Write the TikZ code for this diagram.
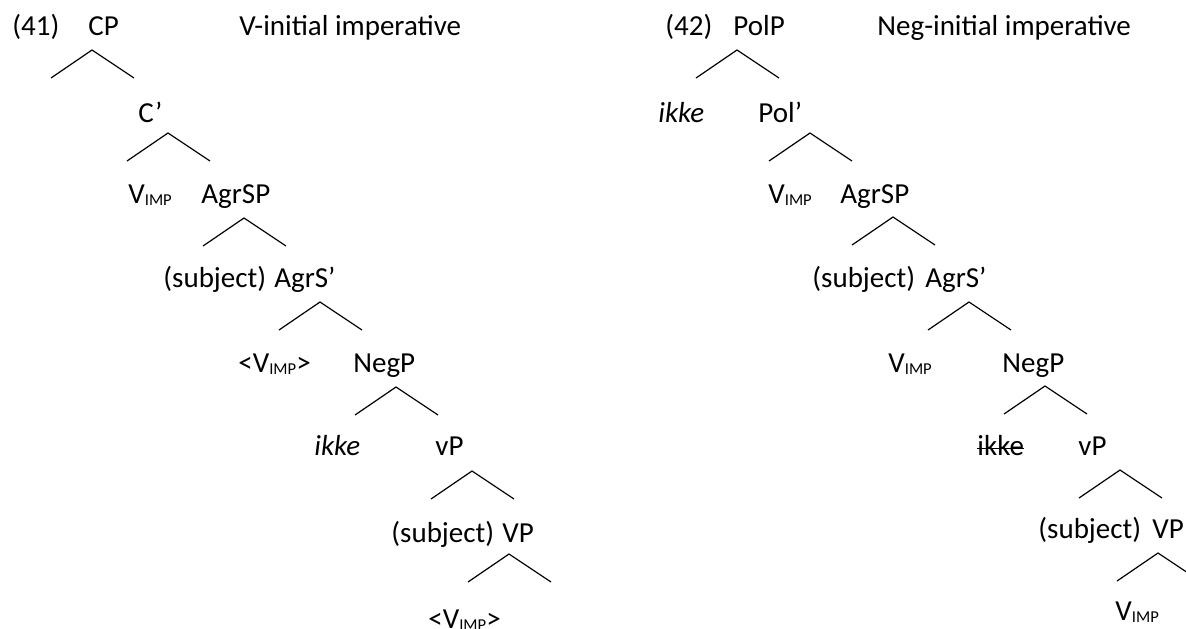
\documentclass[tikz,border=0pt]{standalone}
\usepackage{fontspec}
\setmainfont{Carlito}
\newcommand{\imp}{V\raisebox{-1.3pt}{\fontsize{8.3}{8.3}\selectfont IMP}}
\tikzset{
  lbl/.style={anchor=base west, inner sep=0pt, font=\fontsize{14.5}{17}\selectfont},
  branch/.style={line width=0.6pt}
}

\begin{document}
\begin{tikzpicture}[x=0.5pt, y=-0.5pt]
\useasboundingbox (0,0) rectangle (1186,628);

% (41) V-initial
\node[lbl] (ex41) at (12,35) {(41)};
\node[lbl] (cp) at (88,35) {CP};
\node[lbl] (title41) at (239,35) {V-initial imperative};
\node[lbl] (cbar) at (138,122) {C’};
\node[lbl] (vimpA) at (128,203) {\imp};
\node[lbl] (agrspA) at (201,203) {AgrSP};
\node[lbl] (subjA) at (163,287) {(subject)};
\node[lbl] (agrsbarA) at (274,287) {AgrS’};
\node[lbl] (vcopyA) at (238,372) {<\imp>};
\node[lbl] (negpA) at (353,372) {NegP};
\node[lbl] (ikkeA) at (314,455) {\textit{ikke}};
\node[lbl] (littlevpA) at (435,455) {vP};
\node[lbl] (subjvpA) at (391,542) {(subject)};
\node[lbl] (vpA) at (502,542) {VP};
\node[lbl] (vlowA) at (428,628) {<\imp>};

% (42) Neg-initial
\node[lbl] (ex42) at (665,35) {(42)};
\node[lbl] (polp) at (733,35) {PolP};
\node[lbl] (title42) at (877,35) {Neg-initial imperative};
\node[lbl] (ikkeB) at (658,122) {\textit{ikke}};
\node[lbl] (polbar) at (758,122) {Pol’};
\node[lbl] (vimpB) at (768,203) {\imp};
\node[lbl] (agrspB) at (840,203) {AgrSP};
\node[lbl] (subjB) at (812,287) {(subject)};
\node[lbl] (agrsbarB) at (925,287) {AgrS’};
\node[lbl] (vcopyB) at (888,372) {\imp};
\node[lbl] (negpB) at (1002,372) {NegP};
\node[lbl] (ikkestruck) at (977,455) {ikke};
\node[lbl] (littlevpB) at (1078,455) {vP};
\node[lbl] (subjvpB) at (1038,538) {(subject)};
\node[lbl] (vpB) at (1152,538) {VP};
\node[lbl] (vlowB) at (1115,620) {\imp};

% ikke riscado
\draw[branch] ([yshift=3.3pt]ikkestruck.base west) -- ([yshift=3.3pt]ikkestruck.base east);

% Ramos
\foreach \n/\x/\y in {cp/92/50, cbar/168/133, agrspA/244/218, agrsbarA/320/302,
    negpA/396/387, littlevpA/472/471, vpA/509/554,
    polp/737/50, polbar/810/133, agrspB/893/217, agrsbarB/969/302,
    negpB/1045/386, littlevpB/1120/470, vpB/1158/553}{
  \coordinate (\n-top) at (\x,\y);
  \draw[branch] (\n-top) ++(-41,28) coordinate (\n-l) -- (\n-top) -- ++(42,28) coordinate (\n-r);
}

\end{tikzpicture}
\end{document}
